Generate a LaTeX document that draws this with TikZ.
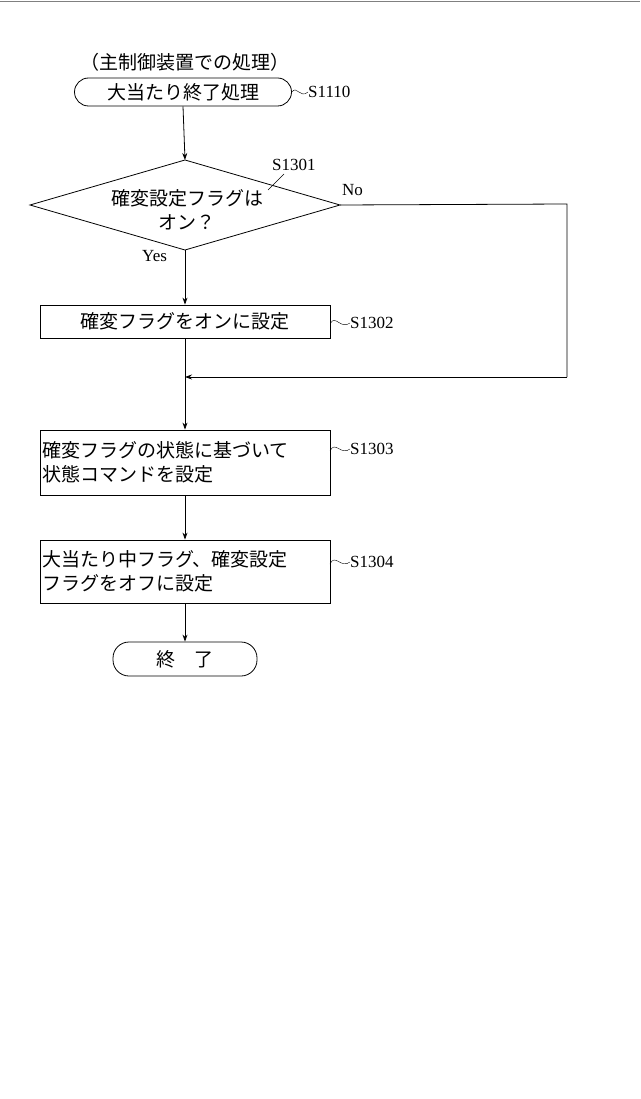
\documentclass[tikz,border=0pt]{standalone}
\usepackage{fontspec}
\setmainfont{Liberation Serif}
\newfontfamily\cjk{Noto Sans CJK JP}
\usetikzlibrary{arrows.meta}
\begin{document}
\begin{tikzpicture}[x=1pt,y=-1pt,
  every node/.style={font=\cjk\fontsize{19}{24}\selectfont},
  lbl/.style={font=\fontsize{17}{20}\selectfont,anchor=west,inner sep=0},
  proc/.style={draw,thick,minimum width=290pt,inner sep=2pt},
  term/.style={draw,thick,rounded corners=14pt},
  arr/.style={thick,-{Stealth[length=7pt,width=5pt]}},
  line/.style={thick}]
\useasboundingbox (0,0) rectangle (640,1099);
\draw[gray] (0,1) -- (640,1);
\node (hdr) at (185,62) {（主制御装置での処理）};
\node[term,minimum width=217pt,minimum height=28pt,inner sep=1pt] (start) at (183,92) {大当たり終了処理};
\node[lbl] (l1110) at (308,92) {S1110};
\draw[thin] (start.east) .. controls (297,85) and (300,99) .. (l1110.west);
\coordinate (dt) at (185,160);
\coordinate (dl) at (30,205);
\coordinate (dr) at (340,205);
\coordinate (db) at (185,250);
\draw[thick] (dt) -- (dr) -- (db) -- (dl) -- cycle;
\node (dtext) at (187,213) {\begin{tabular}{@{}c@{}}確変設定フラグは\\オン？\end{tabular}};
\node[lbl] (l1301) at (272,165) {S1301};
\coordinate (lead1) at (268,190);
\draw[thin] (lead1) -- (284,174);
\node[lbl] (no) at (342,190) {No};
\node[lbl] (yes) at (142,256) {Yes};
\draw[arr] (start.south) -- (dt);
\node[proc,minimum height=33pt] (b2) at (185,321.5) {確変フラグをオンに設定};
\node[lbl] (l1302) at (350,323) {S1302};
\draw[thin] (b2.east) ++(0,2) .. controls (335,314) and (341,330) .. (l1302.west);
\draw[arr] (db) -- (b2.north);
\coordinate (c1) at (567,204);
\coordinate (c2) at (567,377);
\coordinate (m) at (185,377);
\draw[line] (dr) -- (c1) -- (c2);
\draw[arr] (c2) -- (m);
\node[proc,minimum height=65pt,align=left,text width=286pt,inner sep=1pt] (b3) at (185,462.5) {確変フラグの状態に基づいて\\状態コマンドを設定};
\node[lbl] (l1303) at (350,449) {S1303};
\draw[thin] (330,451) .. controls (335,440) and (341,456) .. (l1303.west);
\draw[arr] (b2.south) -- (b3.north);
\node[proc,minimum height=63pt,align=left,text width=286pt,inner sep=1pt] (b4) at (185,571.5) {大当たり中フラグ、確変設定\\フラグをオフに設定};
\node[lbl] (l1304) at (350,562) {S1304};
\draw[thin] (330,564) .. controls (335,553) and (341,569) .. (l1304.west);
\draw[arr] (b3.south) -- (b4.north);
\node[term,minimum width=144pt,minimum height=34pt,rounded corners=16pt] (end) at (185,659) {終　了};
\draw[arr] (b4.south) -- (end.north);
\end{tikzpicture}
\end{document}
